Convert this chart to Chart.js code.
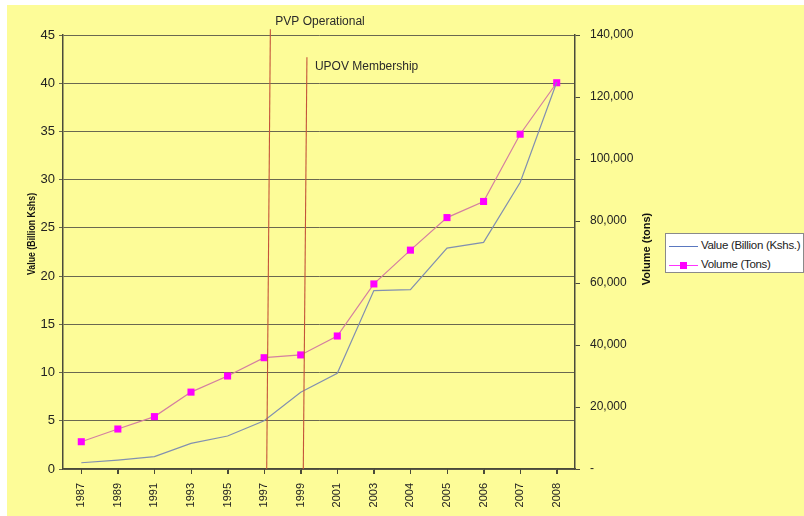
<!DOCTYPE html>
<html>
<head>
<meta charset="utf-8">
<script src="https://cdn.jsdelivr.net/npm/chart.js@4/dist/chart.umd.min.js"></script>
<style>
  html, body { margin: 0; padding: 0; background: #fff; }
  #wrap { position: absolute; left: 7px; top: 5px; width: 797px; height: 511px; background: #fdfc98; }
  #legend { position: absolute; left: 658px; top: 228px; width: 137px; height: 38px; background: #fff;
            border: 1px solid #8a8a8a; font: 11.5px 'Liberation Sans', Arial, sans-serif; letter-spacing: -0.3px; color: #222; }
  .row { position: absolute; left: 0; height: 14px; }
  .swatch { position: absolute; left: 3px; width: 29px; top: 7px; height: 0; border-top: 1px solid; }
  .mark { position: absolute; left: 14px; top: 4px; width: 7px; height: 7px; background: #ff00ff; }
  .lbl { position: absolute; left: 35px; top: 0; white-space: nowrap; }
</style>
</head>
<body>
<div id="wrap">
  <canvas id="chart" width="797" height="511"></canvas>
  <div id="legend">
    <div class="row" style="top:5px"><span class="swatch" style="border-color:#5a78c0"></span><span class="lbl">Value (Billion (Kshs.)</span></div>
    <div class="row" style="top:24px"><span class="swatch" style="border-color:#ff33ff"></span><span class="mark"></span><span class="lbl">Volume (Tons)</span></div>
  </div>
</div>
<script>
// Données
const years = ['1987', '1989', '1991', '1993', '1995', '1997', '1999', '2001', '2003', '2004', '2005', '2006', '2007', '2008'];
const valueBillion = [0.65, 0.93, 1.28, 2.66, 3.42, 5.0, 7.95, 9.92, 18.5, 18.6, 22.9, 23.5, 29.7, 40.1];
const volumeTons = [8800, 12900, 16900, 24800, 30000, 35900, 36800, 42900, 59700, 70600, 81100, 86300, 108000, 124600];

const valueMax = 45, valueStep = 5;
const volumeMax = 140000, volumeStep = 20000;

// Événements marqués par une ligne verticale
const eventYears = ['1997', '1999'];
const eventLabels = ['PVP Operational', 'UPOV Membership'];
const eventTops = [45.6, 42.7];

const FONT = "'Liberation Sans', Arial, sans-serif";
const DARK = '#4a4a3a';

// titre vertical, lu de bas en haut, un peu resserré comme dans l'original
function drawVTitle(ctx, text, x, y, squeeze) {
  ctx.save();
  ctx.translate(x, y);
  ctx.rotate(-Math.PI / 2);
  ctx.scale(squeeze, 1);
  ctx.font = 'bold 11px ' + FONT;
  ctx.fillStyle = '#111';
  ctx.textAlign = 'center';
  ctx.textBaseline = 'middle';
  ctx.fillText(text, 0, 0);
  ctx.restore();
}

const eventsPlugin = {
  id: 'events',
  afterDatasetsDraw(chart) {
    const { ctx, scales: { x, y, y1 }, chartArea } = chart;
    ctx.save();
    // petits traits au centre de chaque catégorie
    ctx.strokeStyle = DARK;
    ctx.lineWidth = 1;
    years.forEach((_, i) => {
      const px = Math.round(x.getPixelForValue(i)) + 0.5;
      ctx.beginPath();
      ctx.moveTo(px, chartArea.bottom);
      ctx.lineTo(px, chartArea.bottom + 5);
      ctx.stroke();
    });
    // lignes rouges
    const dy = [-8, 10];
    eventYears.forEach((yr, k) => {
      const i = years.indexOf(yr);
      const xb = x.getPixelForValue(i + 0.07);
      const xt = x.getPixelForValue(i + 0.17);
      const yt = y.getPixelForValue(eventTops[k]);
      ctx.strokeStyle = '#c4533a';
      ctx.lineWidth = 1.1;
      ctx.beginPath();
      ctx.moveTo(xb, y.getPixelForValue(0));
      ctx.lineTo(xt, yt);
      ctx.stroke();
      ctx.fillStyle = '#2a2a2a';
      ctx.font = '12px ' + FONT;
      ctx.textBaseline = 'middle';
      ctx.textAlign = 'left';
      ctx.fillText(eventLabels[k], xt + (k ? 8 : 5), yt + dy[k]);
    });
    ctx.restore();
    const midY = (chartArea.top + chartArea.bottom) / 2;
    drawVTitle(ctx, 'Value (Billion Kshs)', 25, midY - 18, 0.8);
    drawVTitle(ctx, 'Volume (tons)', y1.right - 8, midY - 3, 1);
  }
};

new Chart(document.getElementById('chart'), {
  type: 'line',
  data: {
    labels: years,
    datasets: [
      {
        label: 'Value (Billion (Kshs.)',
        data: valueBillion,
        yAxisID: 'y',
        borderColor: '#8290b0',
        borderWidth: 1.2,
        pointRadius: 0,
        tension: 0
      },
      {
        label: 'Volume (Tons)',
        data: volumeTons,
        yAxisID: 'y1',
        borderColor: '#d47fa0',
        borderWidth: 1.2,
        pointStyle: 'rect',
        pointRadius: 5,
        pointBackgroundColor: '#ff00ff',
        pointBorderColor: '#ff00ff',
        pointBorderWidth: 0,
        tension: 0
      }
    ]
  },
  options: {
    responsive: false,
    animation: false,
    layout: { padding: { left: 0, top: 30, right: 149, bottom: 7 } },
    plugins: { legend: { display: false }, tooltip: { enabled: false } },
    scales: {
      x: {
        offset: true,
        grid: { drawOnChartArea: false, tickLength: 5, color: DARK },
        border: { color: DARK, width: 1.5 },
        ticks: { color: '#222', font: { family: FONT, size: 11 }, minRotation: 90, maxRotation: 90, padding: 9, autoSkip: false },
        afterFit(s) { s.height = 40; }
      },
      y: {
        position: 'left',
        min: 0, max: valueMax,
        ticks: { stepSize: valueStep, color: '#222', font: { family: FONT, size: 13 }, padding: 4 },
        grid: { color: '#6a6850', lineWidth: 1, tickLength: 4 },
        border: { color: DARK, width: 1.5 },
        afterFit(s) { s.width = 56; }
      },
      y1: {
        position: 'right',
        min: 0, max: volumeMax,
        ticks: {
          stepSize: volumeStep, color: '#222', font: { family: FONT, size: 12 }, padding: 10,
          callback: v => v === 0 ? '-' : v.toLocaleString('en-US')
        },
        grid: { drawOnChartArea: false, tickLength: 5, color: DARK },
        border: { color: DARK, width: 1.5 },
        afterFit(s) { s.width = 80; }
      }
    }
  },
  plugins: [eventsPlugin]
});
</script>
</body>
</html>
